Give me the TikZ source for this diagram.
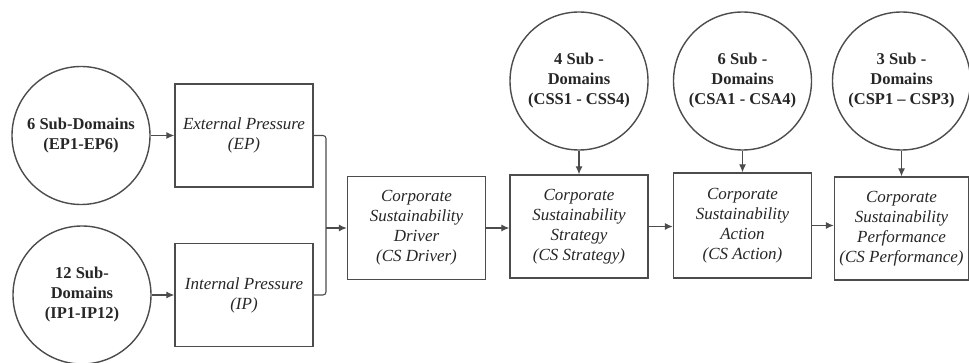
\documentclass[tikz,border=0pt]{standalone}
\usepackage{fontspec}
\setmainfont{Liberation Serif}
\usetikzlibrary{arrows.meta}
\tikzset{
  subdomain/.style={circle, draw=black!70, line width=1.4pt, minimum size=138pt, inner sep=0pt,
    align=center, text=black!85, font=\fontsize{16.5}{20}\selectfont\bfseries},
  construct/.style={rectangle, draw=black!70, line width=1.4pt, minimum width=138pt, minimum height=103pt,
    inner sep=0pt, align=center, text=black!85, font=\fontsize{17}{20}\selectfont\itshape},
  link/.style={draw=black!70, line width=1.1pt, -{Latex[length=8pt,width=7pt]}}
}
\begin{document}
\begin{tikzpicture}[x=1pt,y=-1pt]
  \useasboundingbox (0,0) rectangle (969,363);
  % sub-domain circles
  \node[subdomain] (ep-sub) at (81,135.5) {6 Sub-Domains\\(EP1-EP6)};
  \node[subdomain] (ip-sub) at (82,295) {12 Sub-\\Domains\\(IP1-IP12)};
  \node[subdomain] (css-sub) at (579,81) {4 Sub -\\Domains\\(CSS1 - CSS4)};
  \node[subdomain] (csa-sub) at (742.5,81) {6 Sub -\\Domains\\(CSA1 - CSA4)};
  \node[subdomain] (csp-sub) at (901.5,81) {3 Sub -\\Domains\\(CSP1 -- CSP3)};
  % constructs
  \node[construct] (ep) at (244,135.5) {External Pressure\\(EP)};
  \node[construct] (ip) at (244,295) {Internal Pressure\\(IP)};
  \node[construct] (driver) at (416.5,228) {Corporate\\Sustainability\\Driver\\(CS Driver)};
  \node[construct] (strategy) at (579,226.5) {Corporate\\Sustainability\\Strategy\\(CS Strategy)};
  \node[construct, minimum height=105pt] (action) at (742.5,225.5) {Corporate\\Sustainability\\Action\\(CS Action)};
  \node[construct, minimum width=134pt] (performance) at (901.5,228.5) {Corporate\\Sustainability\\Performance\\(CS Performance)};
  \coordinate (join) at (326,228);
  % connectors
  \draw[link] (ep-sub) -- (ep);
  \draw[link] (ip-sub) -- (ip);
  \draw[draw=black!70, line width=1.1pt, rounded corners=3pt] (ep.east) -| (join) |- (ip.east);
  \draw[link] (join) -- (driver.west);
  \draw[link] (driver.east) -- (driver.east -| strategy.west);
  \draw[link] (strategy.east) -- (strategy.east -| action.west);
  \draw[link] (action.east) -- (action.east -| performance.west);
  \draw[link] (css-sub) -- (strategy);
  \draw[link] (csa-sub) -- (action);
  \draw[link] (csp-sub) -- (performance);
\end{tikzpicture}
\end{document}
